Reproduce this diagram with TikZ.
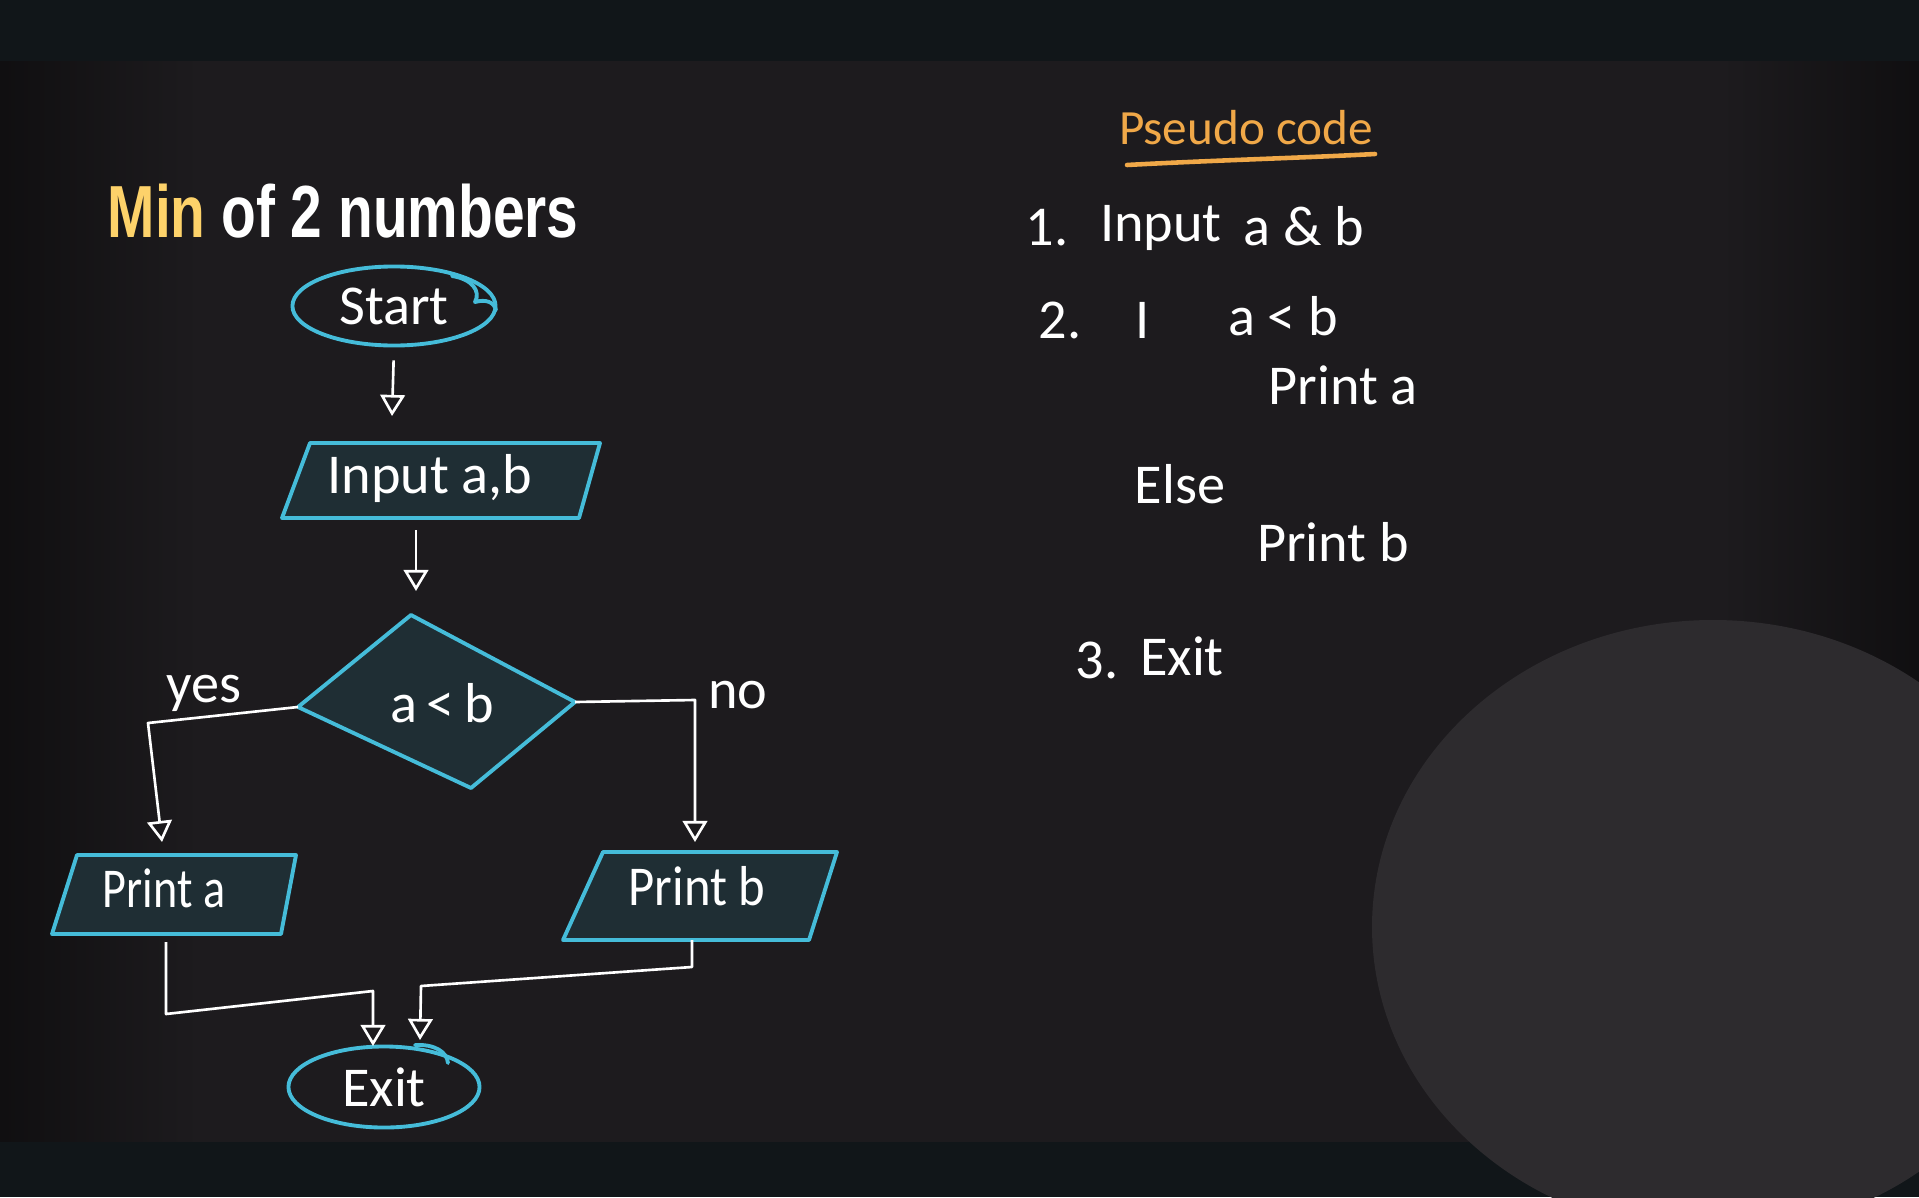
\documentclass[tikz,border=0pt]{standalone}
\usepackage{fontspec}
\setmainfont{Carlito}
\newfontfamily\titlefont{Liberation Sans}[FakeStretch=0.77]
\usetikzlibrary{arrows.meta,shapes.geometric,calc}
\definecolor{bandc}{HTML}{111619}
\definecolor{board}{HTML}{1D1B1E}
\definecolor{blob}{HTML}{2D2B2E}
\definecolor{cyanline}{HTML}{45BCD9}
\definecolor{boxfill}{HTML}{1F2E34}
\definecolor{titleyellow}{HTML}{FDD26A}
\definecolor{chalkorange}{HTML}{F0A848}
\begin{document}
\begin{tikzpicture}[x=0.01cm,y=-0.01cm,
  shapeline/.style={draw=cyanline, line width=1.1pt, line join=round, line cap=round},
  iobox/.style={shapeline, fill=boxfill},
  hand/.style={text=white, font=\fontsize{16}{19}\selectfont, inner sep=0pt},
  ornhand/.style={text=chalkorange, font=\fontsize{14}{17}\selectfont, inner sep=0pt},
  arr/.style={draw=white, line width=0.75pt, line join=round, -{Triangle[open,length=6pt,width=7pt]}},
  wire/.style={draw=white, line width=0.75pt, line join=round}]

\useasboundingbox (0,0) rectangle (1919,1197);
\begin{scope}
\clip (0,0) rectangle (1919,1197);
\fill[board] (0,0) rectangle (1919,1197);
\shade[left color=board!55!black, right color=board] (0,61) rectangle (200,1142);
\shade[left color=board, right color=board!55!black] (1720,61) rectangle (1919,700);
\fill[bandc] (0,0) rectangle (1919,61);
\fill[bandc] (0,1142) rectangle (1919,1197);
\fill[blob] (1713,927) ellipse [x radius=341, y radius=307];
\end{scope}

% title
\node[anchor=base west, inner sep=0pt, font=\titlefont\bfseries\fontsize{21}{24}\selectfont] (title) at (107,237)
  {\textcolor{titleyellow}{Min} \textcolor{white}{of 2 numbers}};

% start
\node[ellipse, shapeline, hand, minimum width=2.03cm, minimum height=0.79cm] (start) at (394,306) {Start};
\draw[shapeline] (452,276) .. controls (472,279) and (481,291) .. (475,302)
  .. controls (486,299) and (494,302) .. (496,310);

% input
\coordinate (iTL) at (310,443);
\coordinate (iTR) at (600,443);
\coordinate (iBR) at (579,518);
\coordinate (iBL) at (282,518);
\coordinate (iB) at (416,518);
\draw[iobox] (iTL) -- (iTR) -- (iBR) -- (iBL) -- cycle;
\node[hand] (inp) at (430,478) {Input a,b};

% decision
\coordinate (dT) at (411,615);
\coordinate (dR) at (575,702);
\coordinate (dB) at (471,788);
\coordinate (dL) at (298,707);
\draw[iobox] (dT) -- (dR) -- (dB) -- (dL) -- cycle;
\node[hand] (dec) at (442,703) {a\,<\,b};

% print a
\coordinate (pTL) at (77,855);
\coordinate (pTR) at (296,855);
\coordinate (pBR) at (281,934);
\coordinate (pBL) at (52,934);
\coordinate (pB) at (166,934);
\draw[iobox] (pTL) -- (pTR) -- (pBR) -- (pBL) -- cycle;
\node[hand, xscale=0.82] (pa) at (164,888) {Print a};

% print b
\coordinate (qTL) at (603,852);
\coordinate (qTR) at (837,852);
\coordinate (qBR) at (809,940);
\coordinate (qBL) at (563,940);
\coordinate (qB) at (692,940);
\draw[iobox] (qTL) -- (qTR) -- (qBR) -- (qBL) -- cycle;
\node[hand, xscale=0.9] (pb) at (697,886) {Print b};

% exit
\node[ellipse, shapeline, hand, minimum width=1.91cm, minimum height=0.81cm] (exit) at (384,1087) {Exit};
\draw[shapeline] (415,1045) .. controls (435,1044) and (447,1052) .. (448,1063);

% labels
\node[hand] (yes) at (204,693) {yes};
\node[hand] (no) at (738,695) {no};

% arrow end points
\coordinate (a1e) at (392,416);
\coordinate (a2e) at (416,591);
\coordinate (ybend) at (148,723);
\coordinate (a3e) at (162,842);
\coordinate (nbend) at (695,700);
\coordinate (a4e) at (695,842);
\coordinate (e1a) at (166,1014);
\coordinate (e1b) at (373,991);
\coordinate (e1e) at (373,1046);
\coordinate (e2a) at (692,967);
\coordinate (e2b) at (421,986);
\coordinate (e2e) at (420,1040);

% connectors
\draw[arr, shorten <=0.13cm] (start.south) -- (a1e);
\draw[arr, shorten <=0.12cm] (iB) -- (a2e);
\draw[arr] (dL) -- (ybend) -- (a3e);
\draw[arr] (dR) -- (nbend) -- (a4e);
\draw[arr, shorten <=0.08cm] (pB) -- (e1a) -- (e1b) -- (e1e);
\draw[arr] (qB) -- (e2a) -- (e2b) -- (e2e);

% pseudocode
\node[ornhand] (pc) at (1246,128) {Pseudo code};
\coordinate (ul1) at (1127,165);
\coordinate (ul2) at (1375,154);
\draw[draw=chalkorange, line width=1.3pt, line cap=round] (ul1) .. controls (1220,160) and (1300,158) .. (ul2);
\node[hand] (s1a) at (1047,228) {1.};
\node[hand] (s1b) at (1161,228) {Input};
\node[hand] (s1c) at (1304,226) {a \& b};
\node[hand] (s2a) at (1060,320) {2.};
\node[hand] (s2b) at (1143,320) {I};
\node[hand] (s2c) at (1283,316) {a < b};
\node[hand] (s2d) at (1343,385) {Print a};
\node[hand] (s2e) at (1180,484) {Else};
\node[hand] (s2f) at (1333,542) {Print b};
\node[hand] (s3a) at (1097,660) {3.};
\node[hand] (s3b) at (1182,656) {Exit};
\end{tikzpicture}
\end{document}
